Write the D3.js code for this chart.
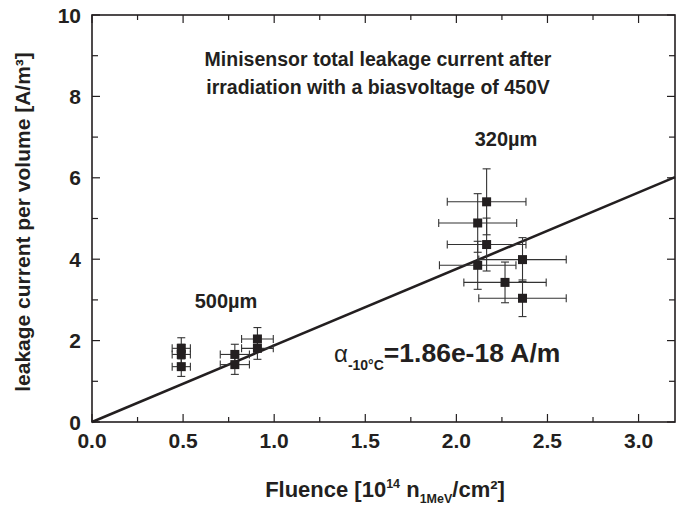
<!DOCTYPE html>
<html><head><meta charset="utf-8">
<script src="https://cdn.jsdelivr.net/npm/d3@7"></script>
<style>body{margin:0;background:#fff;} text{font-family:"Liberation Sans",Arial,sans-serif;}</style>
</head><body><svg id="c" width="682" height="505"></svg>
<script>
// Data
const fluence   = [0.49, 0.49, 0.49, 0.784, 0.784, 0.908, 0.908, 2.166, 2.117, 2.166, 2.117, 2.267, 2.363, 2.363];
const current   = [1.81, 1.66, 1.36, 1.66, 1.41, 2.04, 1.81, 5.41, 4.89, 4.36, 3.85, 3.43, 3.99, 3.04];
const errFluence= [0.05, 0.05, 0.05, 0.08, 0.08, 0.087, 0.087, 0.216, 0.214, 0.216, 0.21, 0.226, 0.24, 0.24];
const errCurrent= [0.26, 0.25, 0.24, 0.25, 0.24, 0.28, 0.27, 0.81, 0.72, 0.65, 0.59, 0.50, 0.54, 0.45];
const fitSlope = 1.88;
const xTicks = [0, 0.5, 1.0, 1.5, 2.0, 2.5, 3.0];
const yTicks = [0, 2, 4, 6, 8, 10];

const svg = d3.select("#c");
const L = 92, R = 675, T = 15, B = 422;
const x = d3.scaleLinear().domain([0, 3.2]).range([L, R]);
const y = d3.scaleLinear().domain([0, 10]).range([B, T]);
const ink = "#231f20";

// frame
svg.append("rect").attr("x", L).attr("y", T).attr("width", R - L).attr("height", B - T)
  .attr("fill", "none").attr("stroke", ink).attr("stroke-width", 1.6);

// ticks
const xMinor = d3.range(0, 3.2001, 0.25);
const yMinor = d3.range(0, 10.001, 1);
const isMajX = v => Math.abs(v * 2 - Math.round(v * 2)) < 1e-6;
const isMajY = v => Math.round(v) % 2 === 0;
const tg = svg.append("g").attr("stroke", ink).attr("stroke-width", 1.2);
xMinor.forEach(v => {
  const len = isMajX(v) ? 8 : 5;
  tg.append("line").attr("x1", x(v)).attr("x2", x(v)).attr("y1", B).attr("y2", B - len);
  tg.append("line").attr("x1", x(v)).attr("x2", x(v)).attr("y1", T).attr("y2", T + len);
});
yMinor.forEach(v => {
  const len = isMajY(v) ? 8 : 6;
  tg.append("line").attr("y1", y(v)).attr("y2", y(v)).attr("x1", L).attr("x2", L + len);
  tg.append("line").attr("y1", y(v)).attr("y2", y(v)).attr("x1", R).attr("x2", R - len);
});

// tick labels
svg.append("g").selectAll("text").data(xTicks).join("text")
  .attr("x", d => x(d)).attr("y", 448).attr("text-anchor", "middle")
  .attr("font-size", 21).attr("font-weight", "bold").attr("fill", ink)
  .text(d => d.toFixed(1));
svg.append("g").selectAll("text").data(yTicks).join("text")
  .attr("x", 81).attr("y", d => y(d) + 7.5).attr("text-anchor", "end")
  .attr("font-size", 21).attr("font-weight", "bold").attr("fill", ink)
  .text(d => d);

// axis titles
const xt = svg.append("text").attr("x", 385).attr("y", 497).attr("text-anchor", "middle")
  .attr("font-size", 22).attr("font-weight", "bold").attr("fill", ink);
xt.append("tspan").text("Fluence [10");
xt.append("tspan").attr("font-size", 12.5).attr("dy", -9).text("14");
xt.append("tspan").attr("dy", 9).text(" n");
xt.append("tspan").attr("font-size", 12.5).attr("dy", 6).text("1MeV");
xt.append("tspan").attr("dy", -6).text("/cm²]");

svg.append("text").attr("transform", "translate(30,222) rotate(-90)").attr("text-anchor", "middle")
  .attr("font-size", 21).attr("font-weight", "bold").attr("fill", ink)
  .text("leakage current per volume [A/m³]");

// fit line
const fitX = [0, 3.2];
svg.append("line").attr("x1", x(fitX[0])).attr("y1", y(fitSlope * fitX[0]))
  .attr("x2", x(fitX[1])).attr("y2", y(fitSlope * fitX[1]))
  .attr("stroke", ink).attr("stroke-width", 2.6);

// error bars
const eg = svg.append("g").attr("stroke", "#333").attr("stroke-width", 1.1);
const cap = 4;
fluence.forEach((f, i) => {
  const cx = x(f), cy = y(current[i]);
  const x0 = x(f - errFluence[i]), x1 = x(f + errFluence[i]);
  const y0 = y(current[i] - errCurrent[i]), y1 = y(current[i] + errCurrent[i]);
  eg.append("line").attr("x1", x0).attr("x2", x1).attr("y1", cy).attr("y2", cy);
  eg.append("line").attr("x1", x0).attr("x2", x0).attr("y1", cy - cap).attr("y2", cy + cap);
  eg.append("line").attr("x1", x1).attr("x2", x1).attr("y1", cy - cap).attr("y2", cy + cap);
  eg.append("line").attr("x1", cx).attr("x2", cx).attr("y1", y0).attr("y2", y1);
  eg.append("line").attr("x1", cx - cap).attr("x2", cx + cap).attr("y1", y0).attr("y2", y0);
  eg.append("line").attr("x1", cx - cap).attr("x2", cx + cap).attr("y1", y1).attr("y2", y1);
});
svg.append("g").selectAll("rect").data(fluence).join("rect")
  .attr("x", (d, i) => x(d) - 4.5).attr("y", (d, i) => y(current[i]) - 4.5)
  .attr("width", 9).attr("height", 9).attr("fill", ink);

// annotations
svg.append("text").attr("x", 378).attr("y", 66).attr("text-anchor", "middle")
  .attr("font-size", 19.5).attr("font-weight", "bold").attr("fill", ink)
  .text("Minisensor total leakage current after");
svg.append("text").attr("x", 378).attr("y", 94).attr("text-anchor", "middle")
  .attr("font-size", 19.5).attr("font-weight", "bold").attr("fill", ink)
  .text("irradiation with a biasvoltage of 450V");
svg.append("text").attr("x", 506).attr("y", 146).attr("text-anchor", "middle")
  .attr("font-size", 20).attr("font-weight", "bold").attr("fill", ink).text("320µm");
svg.append("text").attr("x", 226).attr("y", 308).attr("text-anchor", "middle")
  .attr("font-size", 20).attr("font-weight", "bold").attr("fill", ink).text("500µm");
const at = svg.append("text").attr("x", 334).attr("y", 362)
  .attr("font-size", 26.5).attr("fill", ink);
at.append("tspan").attr("font-size", 24).text("α");
at.append("tspan").attr("font-size", 14).attr("font-weight", "bold").attr("dy", 8).text("-10°C");
at.append("tspan").attr("font-weight", "bold").attr("dy", -8).text("=1.86e-18 A/m");
</script></body></html>
